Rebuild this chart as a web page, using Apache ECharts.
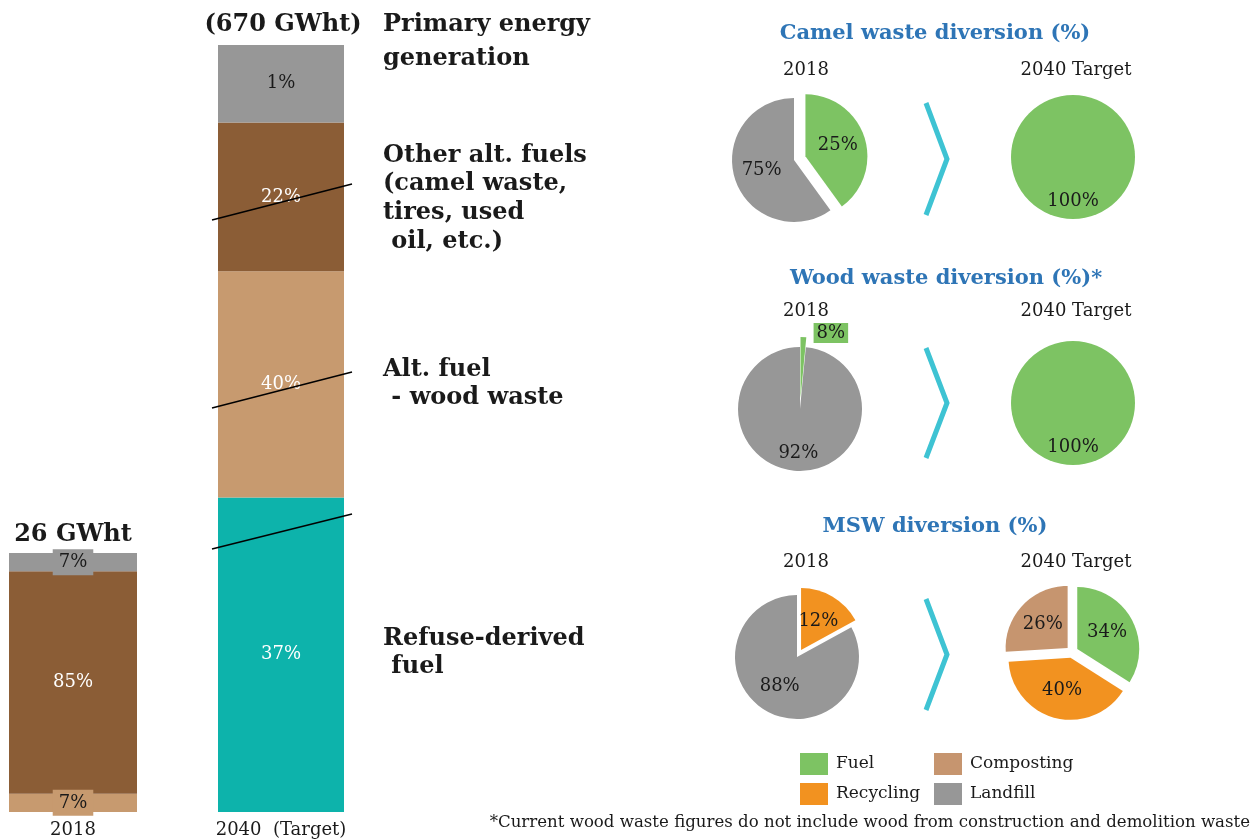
<!DOCTYPE html>
<html>
<head>
<meta charset="utf-8">
<script src="https://cdn.jsdelivr.net/npm/echarts@6/dist/echarts.min.js"></script>
<style>
    html, body { margin: 0; padding: 0; background: #fff; }
    #chart { width: 1260px; height: 840px; }
</style>
</head>
<body>
<div id="chart"></div>
<script>
// ---- data ----
const energyTypes = ['Refuse-derived fuel', 'Alt. fuel - wood waste', 'Other alt. fuels', 'Primary energy generation']
const bar2018Cat = ['2018']
const bar2040Cat = ['2040  (Target)']
// printed shares (%)
const share2018 = [0, 7, 85, 7]
const label2040 = [37, 40, 22, 1]
// segment heights as drawn in the picture (%), they do not follow the printed shares
const drawn2040 = [41, 29.5, 19.4, 10.1]

const camel2018Names = ['Fuel', 'Landfill']
const camel2018Drawn = [40, 60]
const camel2018Label = [25, 75]
const camel2040Names = ['Fuel']
const camel2040Drawn = [100]
const camel2040Label = [100]

const wood2018Names = ['Fuel', 'Landfill']
const wood2018Drawn = [1.5, 98.5]
const wood2018Label = [8, 92]
const wood2040Names = ['Fuel']
const wood2040Drawn = [100]
const wood2040Label = [100]

const msw2018Names = ['Recycling', 'Landfill']
const msw2018Drawn = [17, 83]
const msw2018Label = [12, 88]
const msw2040Names = ['Fuel', 'Recycling', 'Composting']
const msw2040Drawn = [34, 40, 26]
const msw2040Label = [34, 40, 26]

// ---- styles ----
const serif = '"DejaVu Serif", "Liberation Serif", serif'
const textDark = '#1a1a1a'
const barColors = ['#0DB3AB', '#C79A6F', '#8B5D36', '#979797']
const barLabelColor2018 = [textDark, textDark, '#ffffff', textDark]
const barLabelColor2040 = ['#ffffff', '#ffffff', '#ffffff', textDark]
const wasteColors = {
    Fuel: '#7DC363',
    Recycling: '#F29220',
    Composting: '#C6956F',
    Landfill: '#979797'
}

const chart = echarts.init(document.getElementById('chart'))

const barSeries = []
energyTypes.forEach((t, i) => {
    if (share2018[i] > 0) {
        const boxed = barLabelColor2018[i] === textDark
        barSeries.push({
            name: t,
            type: 'bar',
            stack: 's2018',
            xAxisIndex: 0,
            yAxisIndex: 0,
            barWidth: '100%',
            data: [share2018[i]],
            itemStyle: { color: barColors[i] },
            label: {
                show: true,
                position: 'inside',
                formatter: share2018[i] + '%',
                color: barLabelColor2018[i],
                fontFamily: serif,
                fontSize: 18,
                backgroundColor: boxed ? barColors[i] : 'transparent',
                padding: boxed ? [4, 6] : 0
            }
        })
    }
    barSeries.push({
        name: t,
        type: 'bar',
        stack: 's2040',
        xAxisIndex: 1,
        yAxisIndex: 1,
        barWidth: '100%',
        data: [drawn2040[i]],
        itemStyle: { color: barColors[i] },
        label: {
            show: true,
            position: 'inside',
            formatter: label2040[i] + '%',
            color: barLabelColor2040[i],
            fontFamily: serif,
            fontSize: 18
        }
    })
})

const pieLabel = {
    show: true,
    position: 'inside',
    color: textDark,
    fontFamily: serif,
    fontSize: 18
}

// labels that sit lower than the slice middle get an empty first line
function makePie(cx, cy, names, drawn, labels, extra) {
    extra = extra || {}
    const low = extra.low || []
    return {
        type: 'pie',
        center: [cx, cy],
        radius: 62,
        startAngle: 90,
        clockwise: true,
        animation: false,
        selectedMode: extra.selected ? 'multiple' : false,
        selectedOffset: extra.offset || 10,
        emphasis: { scale: false },
        label: pieLabel,
        labelLine: { show: false },
        data: names.map((n, i) => {
            const item = {
                name: n,
                value: drawn[i],
                itemStyle: { color: wasteColors[n] },
                label: Object.assign(
                    low.indexOf(i) >= 0
                        ? { formatter: '\n' + labels[i] + '%', lineHeight: 20 }
                        : { formatter: labels[i] + '%' },
                    (extra.labels || {})[i] || {}
                )
            }
            if (extra.selected && extra.selected.indexOf(i) >= 0) item.selected = true
            return item
        })
    }
}

const pieSeries = [
    makePie(794, 160, camel2018Names, camel2018Drawn, camel2018Label, { selected: [0], offset: 12 }),
    makePie(1073, 157, camel2040Names, camel2040Drawn, camel2040Label, { low: [0] }),
    makePie(800, 409, wood2018Names, wood2018Drawn, wood2018Label, {
        selected: [0],
        offset: 10,
        low: [1],
        labels: {
            0: { position: 'outside', backgroundColor: wasteColors.Fuel, padding: [1, 3], distanceToLabelLine: 2 }
        }
    }),
    makePie(1073, 403, wood2040Names, wood2040Drawn, wood2040Label, { low: [0] }),
    makePie(797, 657, msw2018Names, msw2018Drawn, msw2018Label, { selected: [0], offset: 8 }),
    makePie(1072, 652, msw2040Names, msw2040Drawn, msw2040Label, { selected: [0, 1, 2], offset: 6 })
]
pieSeries[2].labelLine = { show: false, length: 4, length2: 8 }

function txt(x, y, text, o) {
    return {
        type: 'text',
        x: x,
        y: y,
        z: 100,
        silent: true,
        style: Object.assign({
            text: text,
            fill: textDark,
            fontFamily: serif,
            fontSize: 18,
            align: 'center',
            verticalAlign: 'middle',
            textAlign: 'center',
            textVerticalAlign: 'middle'
        }, o || {})
    }
}
const boldLeft = (lh) => ({
    fontWeight: 'bold', fontSize: 24, align: 'left', textAlign: 'left',
    verticalAlign: 'top', textVerticalAlign: 'top', lineHeight: lh
})
const blueTitle = { fontWeight: 'bold', fontSize: 21, fill: '#2E75B6' }

const chevron = (y0, y1) => ({
    type: 'polyline',
    silent: true,
    z: 100,
    shape: { points: [[926, y0], [947, (y0 + y1) / 2], [926, y1]] },
    style: { stroke: '#3EC3D3', lineWidth: 5, fill: null, lineJoin: 'miter' }
})
const connector = (y0, y1) => ({
    type: 'line',
    silent: true,
    z: 100,
    shape: { x1: 212, y1: y0, x2: 352, y2: y1 },
    style: { stroke: '#000', lineWidth: 1.5 }
})

const option = {
    animation: false,
    grid: [
        { left: 9, top: 553, width: 128, height: 259 },
        { left: 218, top: 45, width: 126, height: 767 }
    ],
    xAxis: [0, 1].map((i) => ({
        type: 'category',
        gridIndex: i,
        data: i === 0 ? bar2018Cat : bar2040Cat,
        axisLine: { show: false },
        axisTick: { show: false },
        axisLabel: { color: textDark, fontFamily: serif, fontSize: 18, margin: 9 }
    })),
    yAxis: [0, 1].map((i) => ({
        type: 'value',
        gridIndex: i,
        min: 0,
        max: i === 0 ? share2018.reduce((a, b) => a + b, 0) : drawn2040.reduce((a, b) => a + b, 0),
        show: false
    })),
    legend: [
        { left: 800, top: 753, orient: 'vertical', data: ['Fuel', 'Recycling'] },
        { left: 934, top: 753, orient: 'vertical', data: ['Composting', 'Landfill'] }
    ].map((l) => Object.assign(l, {
        icon: 'rect',
        padding: 0,
        itemWidth: 28,
        itemHeight: 22,
        itemGap: 8,
        selectedMode: false,
        textStyle: { color: textDark, fontFamily: serif, fontSize: 17, padding: [0, 0, 0, 3] }
    })),
    series: barSeries.concat(pieSeries),
    graphic: [
        txt(73, 535, '26 GWht', { fontWeight: 'bold', fontSize: 24 }),
        txt(283, 25, '(670 GWht)', { fontWeight: 'bold', fontSize: 24 }),
        txt(383, 8, 'Primary energy\ngeneration', boldLeft(34)),
        txt(383, 141, 'Other alt. fuels\n(camel waste,\ntires, used\n oil, etc.)', boldLeft(28.7)),
        txt(383, 356, 'Alt. fuel\n - wood waste', boldLeft(28)),
        txt(383, 625, 'Refuse-derived\n fuel', boldLeft(28)),
        connector(220, 184),
        connector(408, 372),
        connector(549, 514),
        txt(935, 34, 'Camel waste diversion (%)', blueTitle),
        txt(946, 279, 'Wood waste diversion (%)*', blueTitle),
        txt(935, 527, 'MSW diversion (%)', blueTitle),
        txt(806, 70, '2018'),
        txt(1076, 70, '2040 Target'),
        txt(806, 311, '2018'),
        txt(1076, 311, '2040 Target'),
        txt(806, 562, '2018'),
        txt(1076, 562, '2040 Target'),
        chevron(103, 215),
        chevron(348, 458),
        chevron(599, 710),
        txt(1250, 823, '*Current wood waste figures do not include wood from construction and demolition waste',
            { fontSize: 16.6, align: 'right', textAlign: 'right' })
    ]
}

chart.setOption(option)
</script>
</body>
</html>
